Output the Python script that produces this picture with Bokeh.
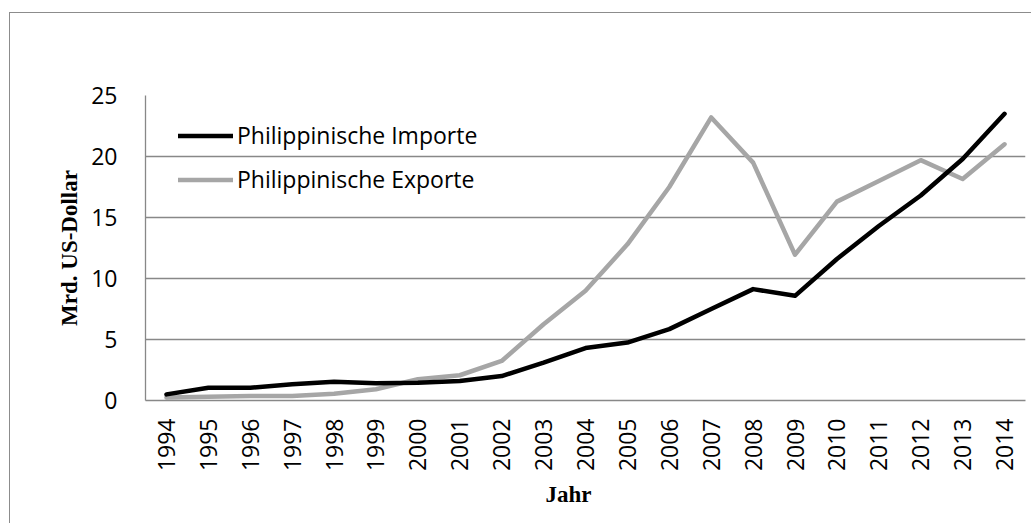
import math
from bokeh.plotting import figure
from bokeh.models import FactorRange, Range1d, Legend, LegendItem, FixedTicker, Title
from bokeh.embed import file_html
from bokeh.resources import INLINE

years = [str(y) for y in range(1994, 2015)]
importe = [0.5, 1.05, 1.05, 1.33, 1.54, 1.41, 1.46, 1.6, 2.0, 3.1, 4.3,
           4.75, 5.85, 7.5, 9.13, 8.58, 11.6, 14.3, 16.8, 19.8, 23.5]
exporte = [0.25, 0.3, 0.37, 0.37, 0.56, 0.92, 1.74, 2.07, 3.24, 6.25, 9.0,
           12.8, 17.5, 23.2, 19.5, 11.95, 16.3, 18.0, 19.7, 18.15, 21.0]
y_ticks = [0, 5, 10, 15, 20, 25]
labels = ["Philippinische Importe", "Philippinische Exporte"]

TICK_FONT = "Open Sans"
GRID = "#888888"

p = figure(width=1022, height=511, x_range=FactorRange(*years, range_padding=0),
           y_range=Range1d(0, 25), output_backend="svg", toolbar_location=None,
           min_border_left=135, min_border_right=7, min_border_top=82, min_border_bottom=124)
p.margin = (12, 0, 0, 9)
p.styles = {"border-left": "1px solid #8c8c8c", "border-top": "1px solid #8c8c8c"}
p.outline_line_color = None
p.background_fill_color = "white"
p.border_fill_color = "white"

p.xgrid.grid_line_color = None
p.ygrid.grid_line_color = GRID
p.ygrid.grid_line_width = 1.3

p.yaxis.ticker = FixedTicker(ticks=y_ticks)
p.yaxis.axis_line_color = GRID
p.yaxis.axis_line_width = 1.3
p.yaxis.major_tick_line_color = None
p.yaxis.minor_tick_line_color = None
p.yaxis.major_label_standoff = 22
p.yaxis.major_label_text_font = TICK_FONT
p.yaxis.major_label_text_font_size = "23px"
p.yaxis.major_label_text_color = "black"
p.yaxis.axis_label = "Mrd. US-Dollar"
p.yaxis.axis_label_text_font = "Liberation Serif"
p.yaxis.axis_label_text_font_style = "bold"
p.yaxis.axis_label_text_font_size = "23px"
p.yaxis.axis_label_text_color = "black"
p.yaxis.axis_label_standoff = 6

p.xaxis.axis_line_color = GRID
p.xaxis.axis_line_width = 1.3
p.xaxis.major_tick_line_color = None
p.xaxis.minor_tick_line_color = None
p.xaxis.major_label_orientation = math.pi / 2
p.xaxis.major_label_standoff = 12
p.xaxis.major_label_text_font = TICK_FONT
p.xaxis.major_label_text_font_size = "23px"
p.xaxis.major_label_text_color = "black"

r_exp = p.line(years, exporte, line_color="#A6A6A6", line_width=4.5,
               line_join="round", line_cap="round")
r_imp = p.line(years, importe, line_color="black", line_width=4.5,
               line_join="round", line_cap="round")

legend = Legend(items=[LegendItem(label=labels[0], renderers=[r_imp]),
                       LegendItem(label=labels[1], renderers=[r_exp])],
                location=(33, 205), orientation="vertical")
legend.background_fill_color = None
legend.border_line_color = None
legend.padding = 0
legend.margin = 0
legend.spacing = 12
legend.glyph_width = 55
legend.glyph_height = 21
legend.label_height = 21
legend.label_standoff = 4
legend.label_text_font = TICK_FONT
legend.label_text_font_size = "23px"
legend.label_text_color = "black"
p.add_layout(legend)

xt = Title(text="Jahr", align="left", offset=400, text_font="Liberation Serif",
           text_font_style="bold", text_font_size="23px", text_color="black",
           standoff=10)
p.add_layout(xt, "below")

open("out.html", "w").write(file_html(p, INLINE))
